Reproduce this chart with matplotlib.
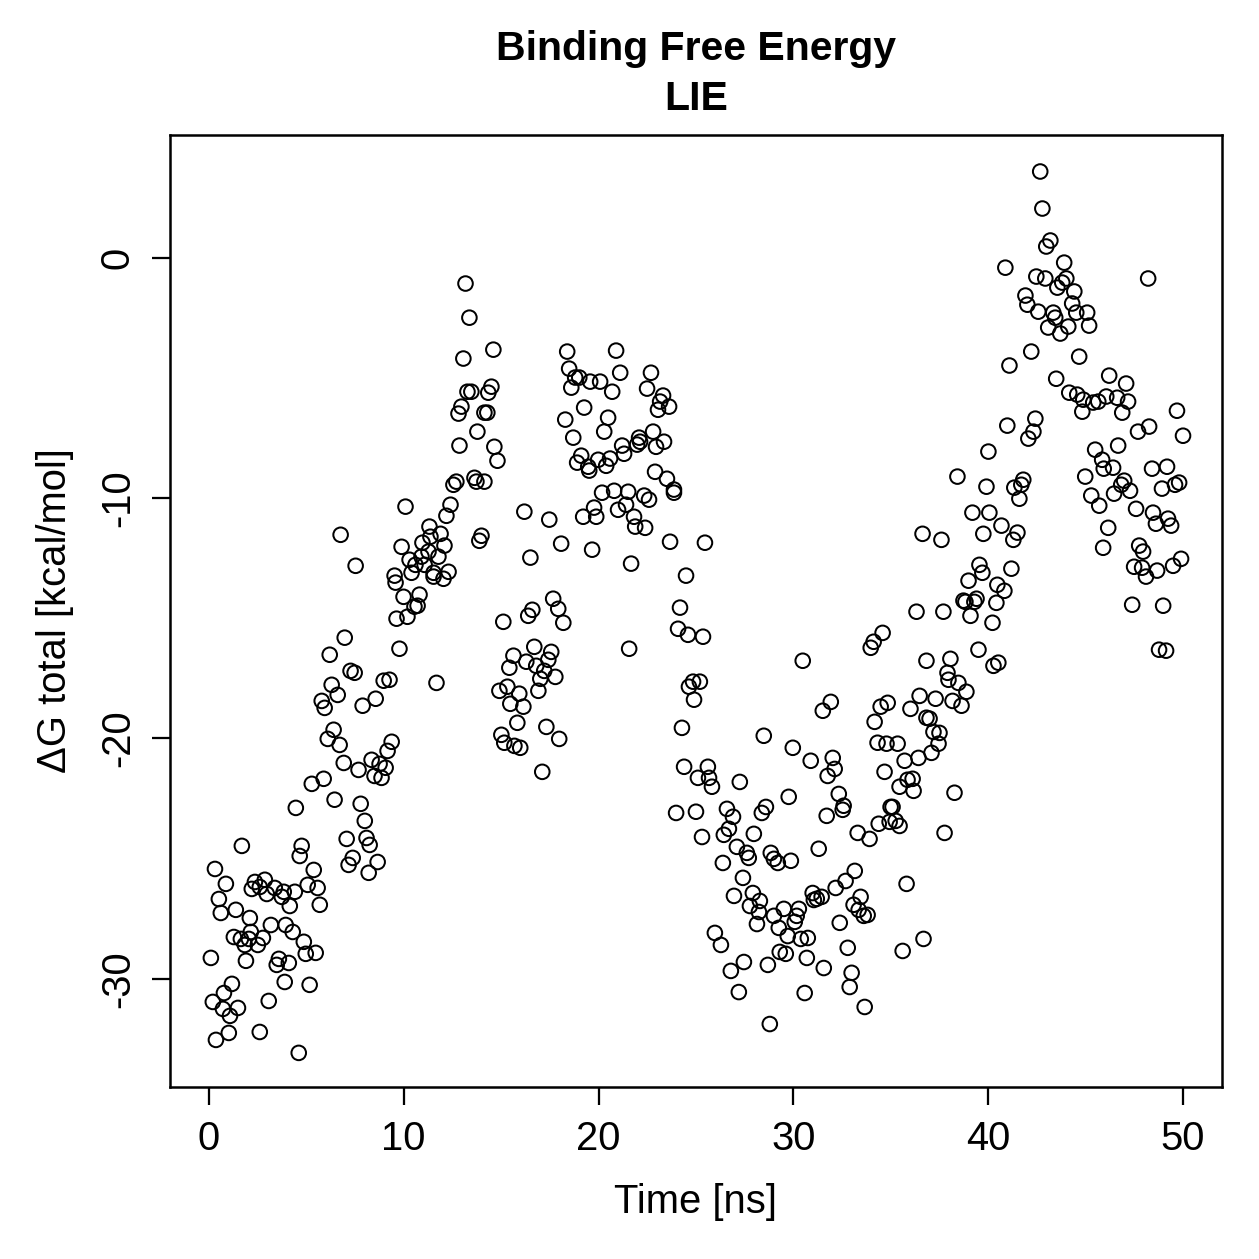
import matplotlib
matplotlib.use("Agg")
import matplotlib.pyplot as plt

# --- data (time in ns, dG in kcal/mol) ---
t_0_6 = [1.69, 4.76, 4.66, 0.31, 5.38, 0.87, 2.36, 2.87, 2.20, 2.61, 2.97, 3.38, 3.74, 3.84,
         4.41, 5.07, 5.58, 4.15, 5.69, 0.51, 0.61, 1.38, 2.10, 3.18, 3.94, 4.30, 4.87, 4.97,
         5.48, 1.28, 1.64, 2.15, 2.05, 1.84, 2.51, 2.77, 0.10, 1.90, 3.59, 3.48, 4.10, 1.18,
         0.77, 3.89, 5.17, 0.20, 0.72, 1.08, 1.49, 3.07, 1.02, 0.36, 2.61, 4.61, 4.46]
dg_0_6 = [-24.47, -24.47, -24.89, -25.43, -25.47, -26.05, -25.97, -25.88, -26.26, -26.18, -26.47,
          -26.22, -26.59, -26.38, -26.38, -26.09, -26.22, -26.97, -26.92, -26.68, -27.26, -27.13,
          -27.47, -27.76, -27.76, -28.05, -28.46, -28.96, -28.92, -28.26, -28.34, -28.05, -28.34,
          -28.59, -28.59, -28.30, -29.13, -29.25, -29.17, -29.42, -29.34, -30.21, -30.59, -30.13,
          -30.25, -30.96, -31.25, -31.54, -31.21, -30.92, -32.25, -32.54, -32.21, -33.08, -22.89]

t_6_10 = [9.63, 10.19, 6.97, 6.20, 9.78, 7.27, 7.48, 8.97, 9.27, 6.30, 6.61, 5.79, 5.94, 7.89,
          8.56, 6.40, 6.10, 6.71, 9.38, 9.17, 6.92, 7.68, 8.35, 8.76, 9.07, 8.50, 8.86, 5.28,
          5.89, 6.45, 7.79, 8.00, 7.07, 8.09, 8.25, 7.38, 7.17, 8.66, 8.20, 6.76, 7.53]
dg_6_10 = [-15.02, -14.94, -15.81, -16.52, -16.27, -17.19, -17.27, -17.60, -17.56, -17.77, -18.19,
           -18.44, -18.73, -18.64, -18.35, -19.64, -20.02, -20.27, -20.14, -20.52, -21.02, -21.31,
           -20.89, -21.06, -21.22, -21.56, -21.64, -21.89, -21.68, -22.55, -22.72, -23.43, -24.18,
           -24.14, -24.43, -24.97, -25.26, -25.14, -25.59, -11.53, -12.82]

t_10_15 = [12.55, 12.70, 13.63, 13.73, 14.14, 10.09, 12.40, 12.19, 11.32, 11.89, 11.37, 10.96,
           12.09, 11.27, 11.78, 10.91, 10.30, 10.60, 11.07, 10.40, 11.53, 12.30, 11.53, 12.04,
           9.89, 13.99, 13.88, 9.53, 9.58, 9.99, 10.81, 10.55, 10.71, 11.68,
           13.17, 13.37, 14.60, 13.06, 14.50, 14.34, 13.27, 13.47, 12.96, 12.81, 14.14, 14.29,
           13.78, 12.86, 14.65, 14.81]
dg_10_15 = [-9.45, -9.32, -9.16, -9.32, -9.32, -10.36, -10.28, -10.74, -11.19, -11.49, -11.61,
            -11.86, -11.98, -12.23, -12.44, -12.44, -12.57, -12.78, -12.78, -13.11, -13.11, -13.07,
            -13.27, -13.36, -12.03, -11.57, -11.78, -13.23, -13.52, -14.11, -14.02, -14.52, -14.48,
            -17.69,
            -1.08, -2.50, -3.83, -4.20, -5.37, -5.62, -5.58, -5.58, -6.20, -6.49, -6.45, -6.45,
            -7.24, -7.82, -7.87, -8.45]

t_15_18 = [15.11, 15.63, 15.42, 14.91, 15.32, 16.19, 17.47, 19.21, 18.08, 16.50, 17.67, 17.93,
           18.19, 16.60, 16.39, 16.70, 17.57, 16.29, 16.80, 17.42, 17.21, 17.01, 17.78, 16.91,
           15.93, 15.47, 16.14, 15.83, 17.32, 15.01, 15.16, 15.68, 15.98, 17.98, 17.11]
dg_15_18 = [-15.15, -16.56, -17.06, -18.02, -17.85, -10.57, -10.90, -10.78, -11.90, -12.48, -14.19,
            -14.61, -15.19, -14.65, -14.90, -16.19, -16.40, -16.81, -16.98, -16.73, -17.19, -17.52,
            -17.44, -18.02, -18.14, -18.56, -18.68, -19.35, -19.52, -19.85, -20.18, -20.31, -20.39,
            -20.02, -21.39]

t_18_26 = [18.39, 20.90, 18.49, 18.80, 19.01, 19.57, 20.08, 18.60, 21.11, 20.70, 22.69, 22.49,
           23.31, 23.16, 23.62, 23.05, 19.26, 18.29, 20.49, 20.29, 18.70, 22.80, 22.08, 22.13,
           21.98, 23.36, 22.95, 21.21, 21.31, 19.11, 18.90, 19.47, 19.52, 19.98, 20.59, 20.39,
           22.90, 23.51, 23.87, 23.87, 20.18, 20.80, 21.52, 22.34, 22.59, 21.41, 21.00, 19.77,
           19.88, 21.82,
           21.88, 22.39, 19.67, 23.67, 25.46, 21.67, 24.49, 24.18, 24.08, 24.59, 25.36, 21.57,
           24.85, 25.20, 24.64, 24.90, 24.28, 24.39, 25.61, 25.10, 25.67, 25.82, 23.98, 25.00]
dg_18_26 = [-3.91, -3.87, -4.62, -4.99, -4.99, -5.16, -5.16, -5.41, -4.79, -5.58, -4.79, -5.45,
            -5.74, -5.99, -6.20, -6.33, -6.24, -6.74, -6.66, -7.24, -7.49, -7.24, -7.49, -7.66,
            -7.78, -7.66, -7.87, -7.82, -8.16, -8.24, -8.53, -8.70, -8.86, -8.41, -8.36, -8.66,
            -8.91, -9.20, -9.65, -9.78, -9.78, -9.70, -9.74, -9.90, -10.07, -10.28, -10.49, -10.40,
            -10.78, -10.78,
            -11.19, -11.24, -12.15, -11.82, -11.86, -12.73, -13.23, -14.56, -15.44, -15.69, -15.77,
            -16.27, -17.64, -17.64, -17.85, -18.39, -19.56, -21.18, -21.18, -21.64, -21.64, -22.01,
            -23.10, -23.05]

t_25_35 = [33.97, 34.12, 30.48, 31.92, 31.51, 34.48, 34.84, 34.17, 28.48, 34.32, 34.78, 29.97,
           30.89, 32.02, 32.12, 31.76, 34.68, 27.25, 32.33, 29.76, 32.58, 32.53, 26.59, 26.90,
           28.59, 28.38, 31.71, 34.99, 34.94, 34.38, 33.30, 33.91, 26.69, 26.43, 27.97, 25.31,
           27.10, 27.61, 27.71, 28.84, 29.00, 29.20, 29.87, 31.30, 26.38, 33.15, 32.68, 32.17,
           27.41, 26.95, 27.92, 28.28, 27.77, 28.23, 28.13, 29.00, 29.51, 30.28, 30.17, 30.07,
           29.25, 29.71, 30.38, 30.74, 30.99, 31.05, 31.20, 31.45, 33.45, 33.09, 33.35, 33.61,
           33.81, 32.38, 25.97, 26.28, 32.79, 29.30, 29.61, 30.69, 27.46, 26.79, 28.69, 31.56,
           32.99, 32.89, 27.20, 30.58, 33.66, 28.79]
dg_25_35 = [-16.23, -15.98, -16.77, -18.48, -18.85, -18.68, -18.52, -19.31, -19.89, -20.18, -20.22,
            -20.39, -20.93, -20.81, -21.27, -21.56, -21.39, -21.81, -22.31, -22.43, -22.80, -22.97,
            -22.93, -23.26, -22.85, -23.10, -23.22, -22.85, -23.47, -23.55, -23.93, -24.18, -23.76,
            -24.01, -23.97, -24.10, -24.51, -24.76, -24.97, -24.76, -25.01, -25.18, -25.09, -24.59,
            -25.18, -25.51, -25.93, -26.22, -25.80, -26.55, -26.43, -26.76, -26.97, -27.22, -27.72,
            -27.38, -27.09, -27.09, -27.38, -27.63, -27.88, -28.22, -28.34, -28.30, -26.43, -26.72,
            -26.67, -26.59, -26.59, -26.92, -27.13, -27.38, -27.34, -27.67, -28.09, -28.59, -28.71,
            -28.88, -28.96, -29.13, -29.30, -29.67, -29.42, -29.55, -29.75, -30.34, -30.55, -30.59,
            -31.17, -31.88]

t_35_42 = [36.32, 37.70, 39.09, 40.22, 34.58, 39.50, 40.27, 40.52, 36.83, 38.06, 37.91, 37.96,
           38.47, 38.88, 38.17, 38.63, 36.48, 37.30, 36.01, 36.83, 36.99, 37.19, 37.50, 37.45,
           37.09, 35.35, 35.71, 36.42, 35.45, 35.86, 36.12, 36.17, 38.27, 35.09, 35.25, 35.45,
           37.76, 35.81, 36.68, 35.61,
           42.42, 42.32, 42.06, 40.98, 40.01, 38.42, 39.91, 41.80, 41.70, 41.34, 41.60, 39.19,
           40.06, 40.68, 41.50, 41.29, 39.75, 36.63, 37.60, 39.55, 39.70, 41.19, 38.99, 40.47,
           40.83, 39.40, 38.73, 38.83, 39.29, 40.42]
dg_35_42 = [-14.73, -14.73, -14.90, -15.19, -15.61, -16.31, -16.98, -16.85, -16.77, -16.69, -17.27,
            -17.56, -17.69, -18.06, -18.44, -18.64, -18.23, -18.35, -18.77, -19.14, -19.18, -19.73,
            -19.77, -20.22, -20.60, -20.22, -20.93, -20.81, -22.01, -21.72, -21.68, -22.18, -22.26,
            -22.85, -23.43, -23.64, -23.93, -26.05, -28.34, -28.84,
            -6.70, -7.24, -7.53, -6.99, -8.07, -9.11, -9.53, -9.24, -9.45, -9.57, -10.03, -10.61,
            -10.61, -11.15, -11.44, -11.74, -11.49, -11.49, -11.74, -12.78, -13.11, -12.94, -13.44,
            -13.61, -13.86, -14.19, -14.27, -14.32, -14.32, -14.36]

t_41_50 = [42.67, 42.78, 43.19, 42.98, 40.88, 43.90, 42.47, 42.93, 44.01, 43.80, 43.55, 44.42,
           41.91, 42.01, 42.57, 44.31, 44.52, 45.08, 43.34, 43.44, 45.18, 43.08, 44.11, 43.70,
           42.21, 44.67, 41.09, 43.49, 46.21, 44.16, 44.57, 44.88, 44.83, 45.39, 45.65, 46.06,
           45.49, 45.85,
           47.08, 46.62, 47.18, 46.88, 49.69, 47.69, 48.26, 50.00, 46.67, 45.93, 46.41, 44.98,
           48.41, 49.18, 46.98, 46.83, 47.28, 46.46, 48.92, 49.59, 49.80, 45.29, 45.70, 47.59,
           48.46, 48.61, 49.23, 49.39, 46.16, 45.90, 47.75, 47.95, 47.49, 47.90, 48.10, 48.67,
           49.49, 49.90, 47.39, 48.98, 48.77, 49.13, 48.21]
dg_41_50 = [3.58, 2.04, 0.71, 0.46, -0.42, -0.21, -0.79, -0.87, -0.87, -1.04, -1.25, -1.41, -1.58,
            -1.96, -2.25, -1.91, -2.29, -2.29, -2.29, -2.50, -2.83, -2.91, -2.87, -3.16, -3.91,
            -4.12, -4.49, -5.04, -4.91, -5.62, -5.70, -5.91, -6.41, -6.03, -5.99, -5.78, -7.99,
            -8.41,
            -5.24, -5.83, -5.99, -6.45, -6.37, -7.24, -7.03, -7.41, -7.82, -8.78, -8.74, -9.11,
            -8.78, -8.70, -9.28, -9.45, -9.70, -9.82, -9.61, -9.45, -9.36, -9.90, -10.32, -10.45,
            -10.61, -11.07, -10.86, -11.15, -11.24, -12.07, -11.98, -12.23, -12.86, -12.90, -13.27,
            -13.02, -12.82, -12.53, -14.44, -14.48, -16.31, -16.35, -0.87]

time_ns = t_0_6 + t_6_10 + t_10_15 + t_15_18 + t_18_26 + t_25_35 + t_35_42 + t_41_50
dg_total = dg_0_6 + dg_6_10 + dg_10_15 + dg_15_18 + dg_18_26 + dg_25_35 + dg_35_42 + dg_41_50

x_ticks = [0, 10, 20, 30, 40, 50]
y_ticks = [0, -10, -20, -30]

plt.rcParams['font.family'] = ['Liberation Sans', 'DejaVu Sans']
plt.rcParams['font.size'] = 16

fig = plt.figure(figsize=(1259 / 180, 1259 / 180), dpi=180)
ax = fig.add_axes([0.135, 0.1366, 0.8356, 0.7562])

ax.scatter(time_ns, dg_total, s=34, facecolors='none', edgecolors='black', linewidths=0.8)

ax.set_xlim(-2, 52)
ax.set_ylim(-34.5, 5.1)
ax.set_xticks(x_ticks)
ax.set_yticks(y_ticks)
ax.set_yticklabels([str(v) for v in y_ticks], rotation=90, va='center')

for s in ax.spines.values():
    s.set_linewidth(1.0)
ax.tick_params(direction='out', length=7.2, width=0.9, pad=6)

ax.set_xlabel("Time [ns]", labelpad=10)
ax.set_ylabel("\u0394G total [kcal/mol]", labelpad=10)
ax.set_title("Binding Free Energy\nLIE", fontsize=16.4, fontweight='bold',
             pad=10, linespacing=1.4)

fig.savefig("out.png", dpi=180)
